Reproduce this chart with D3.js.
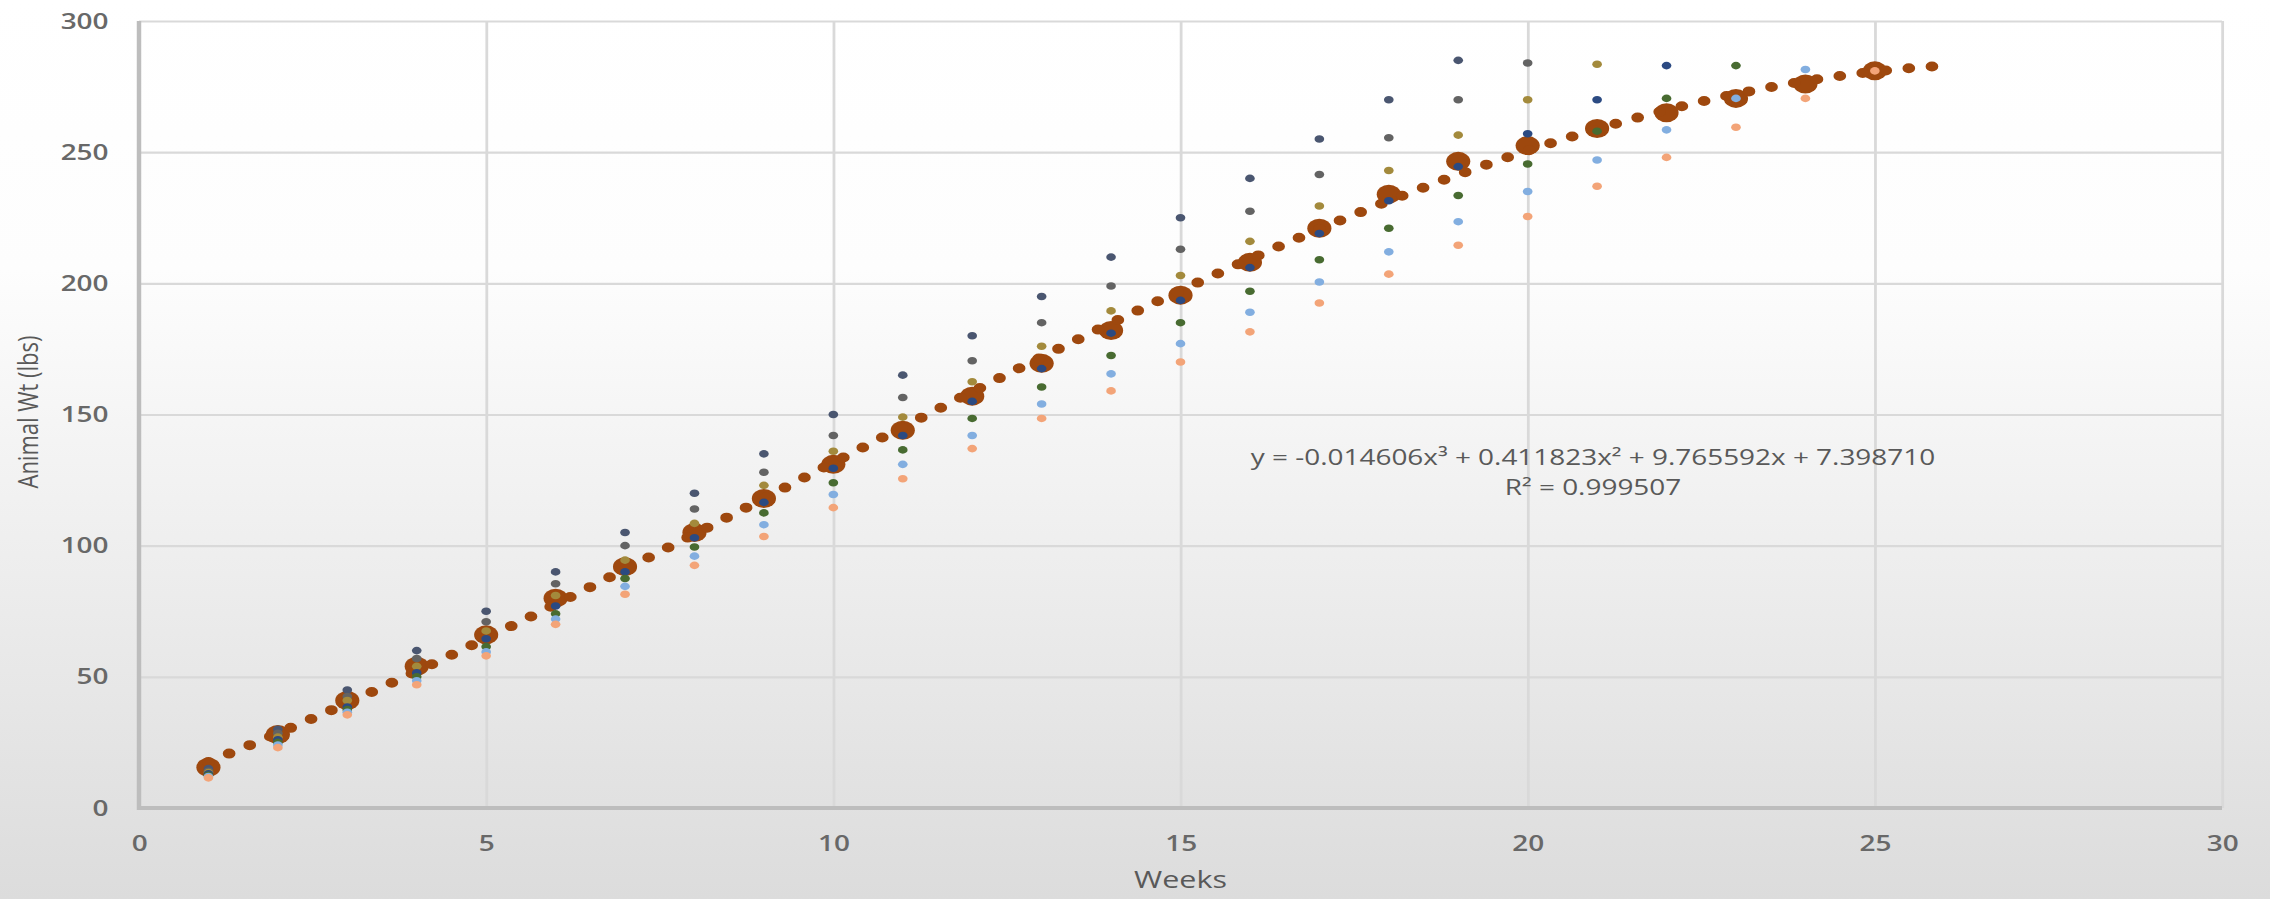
<html>
<head>
    <meta charset="UTF-8" />
    <title>Animal Wt by week</title>
    <script src="https://d3js.org/d3.v7.min.js"></script>
    <style>
        body { margin: 0; background: #ffffff; }
        text { font-family: "Open Sans", sans-serif; }
    </style>
</head>

<body>
    <svg id="chart" width="2270" height="899"></svg>
    <script>
        // week numbers (x values)
        const weeks = [1, 2, 3, 4, 5, 6, 7, 8, 9, 10, 11, 12, 13, 14, 15, 16, 17, 18, 19, 20, 21, 22, 23, 24, 25];

        // one list per animal, null once the animal is gone
        const animal1 = [15, 30, 45, 60, 75, 90, 105, 120, 135, 150, 165, 180, 195, 210, 225, 240, 255, 270, 285, null, null, null, null, null, null];
        const animal2 = [14, 28.5, 42.5, 57, 71, 85.5, 100, 114, 128, 142, 156.5, 170.5, 185, 199, 213, 227.5, 241.5, 255.5, 270, 284, null, null, null, null, null];
        const animal3 = [13.5, 27, 41, 54, 67.5, 81, 94.5, 108.5, 123, 136, 149, 162.5, 176, 189.5, 203, 216, 229.5, 243, 256.5, 270, 283.5, null, null, null, null];
        const animal4 = [13, 26, 38.5, 51.5, 64.5, 77, 90, 103, 116.5, 129.5, 142, 155, 167.5, 181, 193.5, 206, 219, 231.5, 244.5, 257, 270, 283, null, null, null];
        const animal5 = [12.5, 25, 37.5, 50, 61.5, 74, 87.5, 99.5, 112.5, 124, 136.5, 148.5, 160.5, 172.5, 185, 197, 209, 221, 233.5, 245.5, 258, 270.5, 283, null, null];
        const animal6 = [12, 24, 36.5, 48.5, 59.5, 72, 84.5, 96, 108, 119.5, 131, 142, 154, 165.5, 177, 189, 200.5, 212, 223.5, 235, 247, 258.5, 270.5, 281.5, null];
        const animal7 = [11.5, 23, 35.5, 47, 58, 70, 81.5, 92.5, 103.5, 114.5, 125.5, 137, 148.5, 159, 170, 181.5, 192.5, 203.5, 214.5, 225.5, 237, 248, 259.5, 270.5, 281];
        // average weight (big markers)
        const average = [15.5, 28, 41, 54, 66, 80, 92, 105, 118, 131, 144, 157, 169.5, 182, 195.5, 208, 221, 234, 246.5, 252.5, 259, 265, 270.5, 276, 281];

        const animalColors = ["#4a5670", "#636363", "#a38a3c", "#2b4a82", "#486b31", "#82aee0", "#f3a478"];
        const animals = [animal1, animal2, animal3, animal4, animal5, animal6, animal7];

        // polynomial trendline, constant term first
        const trendCoef = [7.398710, 9.765592, 0.411823, -0.014606];
        const trendFrom = 1, trendTo = 26;
        const equationText = "y = -0.014606x³ + 0.411823x² + 9.765592x + 7.398710";
        const r2Text = "R² = 0.999507";

        const xTicks = [0, 5, 10, 15, 20, 25, 30];
        const yTicks = [0, 50, 100, 150, 200, 250, 300];

        let svg = d3.select("svg#chart");
        const width = +svg.attr("width");
        const height = +svg.attr("height");

        // the picture is widened, so text and dots are drawn in a squeezed frame then stretched
        const stretch = 1.27;
        const plotLeft = 139 / stretch, plotRight = 2222 / stretch;
        const plotTop = 21, plotBottom = 808;

        // background gradient
        let defs = svg.append("defs");
        let grad = defs.append("linearGradient").attr("id", "bg")
                       .attr("x1", 0).attr("y1", 0).attr("x2", 0).attr("y2", 1);
        grad.append("stop").attr("offset", "0%").attr("stop-color", "#ffffff");
        grad.append("stop").attr("offset", "30%").attr("stop-color", "#fdfdfd");
        grad.append("stop").attr("offset", "100%").attr("stop-color", "#dcdcdc");
        svg.append("rect").attr("width", width).attr("height", height).attr("fill", "url(#bg)");

        let root = svg.append("g").attr("transform", `scale(${stretch},1)`);

        const xScale = d3.scaleLinear().domain([0, 30]).range([plotLeft, plotRight]);
        const yScale = d3.scaleLinear().domain([0, 300]).range([plotBottom, plotTop]);

        // gridlines
        let gridY = root.append("g").attr("transform", `translate(${plotLeft},0)`)
                        .call(d3.axisLeft(yScale).tickValues(yTicks).tickSize(-(plotRight - plotLeft)).tickFormat(""));
        let gridX = root.append("g").attr("transform", `translate(0,${plotBottom})`)
                        .call(d3.axisBottom(xScale).tickValues(xTicks).tickSize(-(plotBottom - plotTop)).tickFormat(""));
        [gridX, gridY].forEach(g => {
            g.select(".domain").remove();
            g.selectAll("line").attr("stroke", "#d9d9d9").attr("stroke-width", 2.2);
        });

        // axis lines
        root.append("line")
            .attr("x1", plotLeft).attr("x2", plotLeft)
            .attr("y1", plotTop).attr("y2", plotBottom + 2)
            .attr("stroke", "#bdbdbd").attr("stroke-width", 3.5);
        root.append("line")
            .attr("x1", plotLeft - 1).attr("x2", plotRight)
            .attr("y1", plotBottom).attr("y2", plotBottom)
            .attr("stroke", "#bdbdbd").attr("stroke-width", 4);

        // tick labels
        let axisY = root.append("g").attr("transform", `translate(${plotLeft},0)`)
                        .call(d3.axisLeft(yScale).tickValues(yTicks).tickSize(0).tickPadding(24));
        let axisX = root.append("g").attr("transform", `translate(0,${plotBottom})`)
                        .call(d3.axisBottom(xScale).tickValues(xTicks).tickSize(0).tickPadding(27));
        [axisX, axisY].forEach(g => {
            g.select(".domain").remove();
            g.selectAll("text")
             .attr("font-family", "Open Sans")
             .attr("font-size", "22px")
             .attr("font-weight", 600)
             .attr("fill", "#686868");
        });

        // average markers
        let avgData = weeks.map((w, i) => ({x: w, y: average[i]}));
        root.append("g").selectAll("circle")
            .data(avgData)
            .join("circle")
            .attr("cx", d => xScale(d.x))
            .attr("cy", d => yScale(d.y))
            .attr("r", 9.5)
            .attr("fill", "#9e480e");

        // trendline (round dots)
        const poly = (x) => trendCoef.reduce((s, c, k) => s + c * Math.pow(x, k), 0);
        let trendX = d3.range(trendFrom, trendTo + 0.001, 0.05);
        let trendLine = d3.line().x(d => xScale(d)).y(d => yScale(poly(d)));
        root.append("path")
            .datum(trendX)
            .attr("d", trendLine)
            .attr("fill", "none")
            .attr("stroke", "#9e480e")
            .attr("stroke-width", 10)
            .attr("stroke-linecap", "round")
            .attr("stroke-dasharray", "0 18.3");

        // each animal's weights
        animals.forEach((vals, s) => {
            let pts = weeks.map((w, i) => ({x: w, y: vals[i]})).filter(d => d.y != null);
            root.append("g").selectAll("circle")
                .data(pts)
                .join("circle")
                .attr("cx", d => xScale(d.x))
                .attr("cy", d => yScale(d.y))
                .attr("r", 3.8)
                .attr("fill", animalColors[s]);
        });

        // equation and R squared
        const midX = 1593 / stretch;
        root.append("text")
            .attr("x", midX).attr("y", 457).attr("dy", "0.35em")
            .attr("text-anchor", "middle")
            .attr("font-size", "22px").attr("fill", "#595959")
            .text(equationText);
        root.append("text")
            .attr("x", midX).attr("y", 487).attr("dy", "0.35em")
            .attr("text-anchor", "middle")
            .attr("font-size", "22px").attr("fill", "#595959")
            .text(r2Text);

        // axis titles
        root.append("text")
            .attr("x", (plotLeft + plotRight) / 2).attr("y", 880).attr("dy", "0.35em")
            .attr("text-anchor", "middle")
            .attr("font-size", "24px").attr("fill", "#595959")
            .text("Weeks");
        root.append("text")
            .attr("transform", `translate(${28 / stretch},412) rotate(-90)`)
            .attr("dy", "0.35em")
            .attr("text-anchor", "middle")
            .attr("font-size", "22px").attr("fill", "#595959")
            .text("Animal Wt (lbs)");
    </script>
</body>
</html>
